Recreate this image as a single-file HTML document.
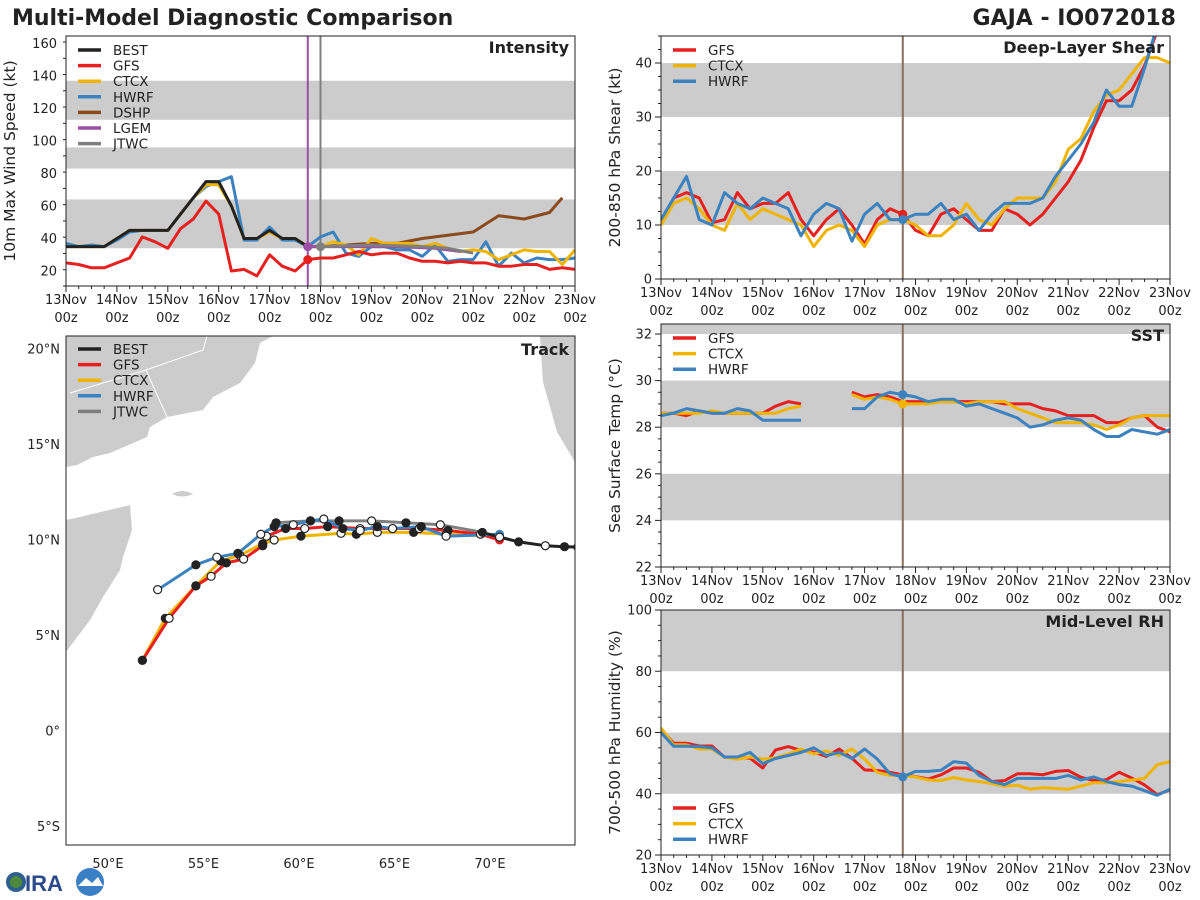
<!DOCTYPE html>
<html><head><meta charset="utf-8">
<style>
body{margin:0;background:#fff;}
svg{display:block;font-family:"DejaVu Sans","Liberation Sans",sans-serif;}
</style></head>
<body>
<svg id="fig" width="1200" height="900" viewBox="0 0 1200 900">
<text x="12" y="25" font-size="22" font-weight="bold" fill="#222">Multi-Model Diagnostic Comparison</text>
<text x="1176" y="25" font-size="22" font-weight="bold" fill="#222" text-anchor="end">GAJA - IO072018</text>
<g>
<circle cx="16" cy="882" r="10" fill="#2d5f8f"/><circle cx="16" cy="882" r="6" fill="#4f8a3c"/>
<text x="25" y="891" font-size="22" font-weight="bold" fill="#2a4a8a" font-family="Liberation Sans,sans-serif">IRA</text>
<circle cx="90" cy="882" r="14" fill="#3b7fc4"/><path d="M78 886 L86 878 L92 883 L98 877 L103 886 Z" fill="#fff"/>
</g>
</svg>
<script>
// ---------- data ----------
const timeLabels = ["13Nov","14Nov","15Nov","16Nov","17Nov","18Nov","19Nov","20Nov","21Nov","22Nov","23Nov"];
// intensity (kt), 6-hourly from 13Nov00z
const intBEST = [35,35,35,35,40,45,45,45,45,55,65,75,75,60,40,40,45,40,40,35];
const intGFS  = [25,24,22,22,25,28,41,38,34,46,52,63,55,20,21,17,30,23,20,27,28,28,30,32,30,31,31,28,26,26,25,26,25,25,23,23,24,24,21,22,21];
const intCTCX = [35,35,35,35,40,45,45,45,45,55,65,73,73,60,40,40,44,40,40,35,35,38,36,30,40,37,37,37,35,37,34,32,33,32,27,30,33,32,32,24,33];
const intHWRF = [37,35,36,35,39,44,45,45,45,55,65,72,75,78,39,39,47,39,39,35,41,44,31,29,35,35,33,33,29,36,26,27,27,38,23,31,25,28,27,27,28];
const dshpHours = [114,120,132,144,156,168,180,192,204,216,228,234];
const dshpVals  = [35,35,36,37,37,40,42,44,54,52,56,65];
const lgemHours = [114,132,156,174,186];
const lgemVals  = [35,35,35,34,32];
const jtwcHours = [120,144,168,180,192];
const jtwcVals  = [35,36,35,34,31];
// deep-layer shear (kt)
const shrGFS  = [10.4,15,16,15,10.4,11,16,13,14,14,16,11,8,11,13,10,6.5,11,13,12,9,8,12,13,11,9,9,13,12,10,12,15,18,22,28,33,33,35,39.5,46];
const shrCTCX = [10,14,15,13,10,9,14,11,13,12,11,10,6,9,10,9,6,10,11,11,10,8,8,10,14,11,10,13,15,15,15,18,24,26,31,34,35,38,41,41,40];
const shrHWRF = [11,15,19,11,10,16,14,13,15,14,13,8,12,14,13,7,12,14,11,11,12,12,14,11,12,9,12,14,14,14,15,19,22,25,29,35,32,32,39,47];
// SST (C), null = missing
const sstGFS  = [28.6,28.6,28.5,28.7,28.6,28.6,28.6,28.6,28.6,28.9,29.1,29.0,null,null,null,29.5,29.3,29.4,29.3,29.1,29.1,29.1,29.1,29.1,29.1,29.1,29.1,29.0,29.0,29.0,28.8,28.7,28.5,28.5,28.5,28.2,28.2,28.4,28.5,28.0,27.8];
const sstCTCX = [28.6,28.6,28.6,28.6,28.7,28.6,28.6,28.6,28.6,28.6,28.8,28.9,null,null,null,29.4,29.2,29.3,29.2,29.0,29.0,29.0,29.1,29.1,29.0,29.1,29.1,29.1,28.8,28.6,28.4,28.2,28.2,28.2,28.1,27.9,28.1,28.4,28.5,28.5,28.5];
const sstHWRF = [28.5,28.6,28.8,28.7,28.6,28.6,28.8,28.7,28.3,28.3,28.3,28.3,null,null,null,28.8,28.8,29.3,29.5,29.4,29.3,29.1,29.2,29.2,28.9,29.0,28.8,28.6,28.4,28.0,28.1,28.3,28.4,28.3,27.9,27.6,27.6,27.9,27.8,27.7,27.9];
// mid-level RH (%)
const rhGFS  = [60.9,56.5,56.5,55.6,55.6,51.9,51.9,51.6,48.4,54.3,55.4,54.1,53.6,52.2,54.6,51.6,47.8,47.6,47.0,46.2,45.6,44.8,46.2,48.4,48.4,47.0,44.0,44.3,46.5,46.5,46.2,47.3,47.6,45.4,44.3,44.6,47.0,45.1,42.9,39.7,41.3];
const rhCTCX = [61.5,56,56,54.6,54.6,52,51.3,52,51.3,51.7,53,54.6,53,54,52.5,54.6,51.3,47,46,46,45.5,44.5,44.3,45.3,44.5,44.0,43.3,42.5,42.8,41.5,42,41.7,41.5,42.5,43.6,43.6,44.0,44.5,45,49.5,50.5];
const rhHWRF = [60,55.5,55.5,55.4,55,52,52,53.5,49.8,51.5,52.5,53.5,55,52.5,53.5,51.5,54.6,51.3,46.5,45.5,47.3,47.3,47.7,50.5,50,46,44,43,45,45,45,45,46,44.5,45.5,44,43,42.5,41,39.5,41.5];
// tracks (lon E, lat N)
const trkBESTlon = [69.6,70.5,71.5,72.9,73.9,74.6];
const trkBESTlat = [10.4,10.15,9.9,9.7,9.65,9.63];
const trkJTWClon = [69.6,67.4,65.6,63.8,62.1,60.6,58.8];
const trkJTWClat = [10.4,10.8,10.9,11.0,11.0,11.0,10.9];
const trkHWRFlon = [70.5,67.7,66.4,64.9,64.1,63.2,62.3,61.3,60.6,59.7,58.7,58.0,56.8,55.7,54.6,52.6];
const trkHWRFlat = [10.3,10.2,10.7,10.6,10.7,10.5,10.6,11.1,11.0,10.8,10.7,10.3,9.3,9.1,8.7,7.4];
const trkGFSlon = [70.5,69.5,67.8,66.3,64.9,63.2,61.5,60.3,59.3,58.3,58.1,57.1,56.2,55.4,54.6,53.2,51.8];
const trkGFSlat = [10.0,10.3,10.5,10.6,10.6,10.6,10.7,10.6,10.6,10.2,9.7,9.0,8.8,8.1,7.6,5.9,3.7];
const trkCTCXlon = [70.5,67.7,66.0,64.1,63.0,62.2,60.1,58.7,58.1,56.9,55.9,54.6,53.0,51.8];
const trkCTCXlat = [10.2,10.3,10.4,10.4,10.3,10.35,10.2,10.0,9.8,9.2,8.9,7.6,5.9,3.7];

const C = {BEST:"#222222",GFS:"#e6201f",CTCX:"#f0b400",HWRF:"#3b82bf",DSHP:"#8b4a1e",LGEM:"#9b4fa6",JTWC:"#7f7f7f"};
const NS="http://www.w3.org/2000/svg";
const svg=document.getElementById('fig');
function mk(tag,attrs,parent){const e=document.createElementNS(NS,tag);for(const k in attrs)e.setAttribute(k,attrs[k]);(parent||svg).appendChild(e);return e;}

function timePanel(p){
  const g=mk('g',{});
  
  
  const X=h=>p.l+(h/240)*(p.r-p.l);
  const Y=v=>p.b-(v-p.ymin)/(p.ymax-p.ymin)*(p.b-p.t);
  const clip='clip-'+p.name;
  const cp=mk('clipPath',{id:clip},g);mk('rect',{x:p.l,y:p.t,width:p.r-p.l,height:p.b-p.t},cp);
  p.bands.forEach(b=>{const y1=Y(Math.min(b[1],p.ymax)),y2=Y(b[0]);const r=mk('rect',{x:p.l,y:y1,width:p.r-p.l,height:y2-y1,fill:"#cccccc"},g);});
  const plot=mk('g',{'clip-path':'url(#'+clip+')'},g);
  (p.vlines||[]).forEach(v=>{const l=mk('line',{x1:X(v[0]),x2:X(v[0]),y1:p.t,y2:p.b,stroke:v[1],'stroke-width':2},plot);});
  p.series.forEach(s=>{
    const hrs=s.hours||s.vals.map((_,i)=>i*6);
    let d='',pen=false;
    s.vals.forEach((v,i)=>{if(v===null){pen=false;return;}d+=(pen?'L':'M')+X(hrs[i]).toFixed(1)+' '+Y(v).toFixed(1);pen=true;});
    const path=mk('path',{d:d,fill:'none',stroke:C[s.key],'stroke-width':s.w||3,'stroke-linejoin':'round'},plot);
    
    
    if(s.dot!==undefined){const idx=hrs.indexOf(s.dot);const c=mk('circle',{cx:X(hrs[idx]),cy:Y(s.vals[idx]),r:4.5,fill:C[s.key]},plot);}
  });
  mk('rect',{x:p.l,y:p.t,width:p.r-p.l,height:p.b-p.t,fill:'none',stroke:'#222','stroke-width':1},g);
  for(let h=0;h<=240;h+=6){const maj=h%24===0;mk('line',{x1:X(h),x2:X(h),y1:p.b,y2:p.b+(maj?6:3),stroke:'#222','stroke-width':1},g);}
  timeLabels.forEach((lab,i)=>{const t=mk('text',{x:X(i*24),y:p.b+18,'font-size':13,'text-anchor':'middle',fill:'#222'},g);t.textContent=lab;
    const t2=mk('text',{x:X(i*24),y:p.b+36,'font-size':13,'text-anchor':'middle',fill:'#222'},g);t2.textContent='00z';});
  for(let v=p.ymin;v<=p.ymax+1e-6;v+=p.minor){if(v<p.ymin)continue;const maj=Math.abs((v-p.y0)/p.major-Math.round((v-p.y0)/p.major))<1e-6;mk('line',{x1:p.l,x2:p.l-(maj?6:3),y1:Y(v),y2:Y(v),stroke:'#222','stroke-width':1},g);}
  p.yticks.forEach(v=>{const t=mk('text',{x:p.l-9,y:Y(v)+4.5,'font-size':13,'text-anchor':'end',fill:'#222'},g);t.textContent=v;});
  const yl=mk('text',{x:0,y:0,'font-size':15.5,'text-anchor':'middle',fill:'#222',transform:`translate(${p.ylx},${(p.t+p.b)/2}) rotate(-90)`},g);yl.textContent=p.ylabel;
  const ti=mk('text',{x:p.r-6,y:p.t+17,'font-size':16,'font-weight':'bold','text-anchor':'end',fill:'#222'},g);ti.textContent=p.title;
  legend(g,p.l+12,p.legY,p.legend);
}
function legend(g,x,y0,keys){
  keys.forEach((k,i)=>{const y=y0+i*15.6;
    const lg=mk('g',{},g);
    mk('line',{x1:x,x2:x+23,y1:y,y2:y,stroke:C[k],'stroke-width':3.5},lg);
    const t=mk('text',{x:x+35,y:y+5,'font-size':13.5,fill:'#222'},lg);t.textContent=k;});
}

timePanel({name:'intensity-panel',l:66,r:575,t:36,b:286,ymin:10.8,ymax:164.5,y0:20,major:20,minor:10,yticks:[20,40,60,80,100,120,140,160],
  bands:[[34,64],[83,96],[113,137]],ylabel:'10m Max Wind Speed (kt)',ylx:15,title:'Intensity',legY:50,
  legend:['BEST','GFS','CTCX','HWRF','DSHP','LGEM','JTWC'],vlines:[[114,C.LGEM],[120,C.JTWC]],
  series:[{key:'DSHP',vals:dshpVals,hours:dshpHours},{key:'HWRF',vals:intHWRF},{key:'CTCX',vals:intCTCX},{key:'GFS',vals:intGFS,dot:114},{key:'BEST',vals:intBEST},
    {key:'LGEM',vals:lgemVals,hours:lgemHours,dot:114},{key:'JTWC',vals:jtwcVals,hours:jtwcHours,dot:120}]});
timePanel({name:'shear-panel',l:661,r:1170,t:36,b:279,ymin:0,ymax:45,y0:0,major:10,minor:2.5,yticks:[0,10,20,30,40],
  bands:[[10,20],[30,40]],ylabel:'200-850 hPa Shear (kt)',ylx:620,title:'Deep-Layer Shear',legY:50,legend:['GFS','CTCX','HWRF'],
  vlines:[[114,'#8a6e5e']],series:[{key:'GFS',vals:shrGFS,dot:114},{key:'CTCX',vals:shrCTCX},{key:'HWRF',vals:shrHWRF,dot:114}]});
timePanel({name:'sst-panel',l:661,r:1170,t:324,b:567,ymin:22,ymax:32.43,y0:22,major:2,minor:0.5,yticks:[22,24,26,28,30,32],
  bands:[[24,26],[28,30],[32,33]],ylabel:'Sea Surface Temp (°C)',ylx:620,title:'SST',legY:338,legend:['GFS','CTCX','HWRF'],
  vlines:[[114,'#8a6e5e']],series:[{key:'GFS',vals:sstGFS},{key:'CTCX',vals:sstCTCX,dot:114},{key:'HWRF',vals:sstHWRF,dot:114}]});
timePanel({name:'rh-panel',l:661,r:1170,t:610,b:855,ymin:20,ymax:100,y0:20,major:20,minor:5,yticks:[20,40,60,80,100],
  bands:[[40,60],[80,100]],ylabel:'700-500 hPa Humidity (%)',ylx:620,title:'Mid-Level RH',legY:808,legend:['GFS','CTCX','HWRF'],
  vlines:[[114,'#8a6e5e']],series:[{key:'GFS',vals:rhGFS},{key:'CTCX',vals:rhCTCX},{key:'HWRF',vals:rhHWRF,dot:114}]});

// ---------- track panel ----------
(function(){
  const L=66,R=575,T=336,B=845;
  const LX=lon=>108+(lon-50)*19.1, LY=lat=>540-(lat-10)*19.1;
  const g=mk('g',{});
  const cp=mk('clipPath',{id:'clip-track'},g);mk('rect',{x:L,y:T,width:R-L,height:B-T},cp);
  const m=mk('g',{'clip-path':'url(#clip-track)'},g);
  const land=[
    "M66 336 L273 336 L260 343 L255 363 L240 383 L213 397 L203 410 L167 417 L150 427 L147 437 L110 453 L93 457 L77 465 L66 467 Z",
    "M66 520 L80 517 L130 505 L132 530 L123 557 L120 570 L103 597 L90 620 L66 652 Z",
    "M540 336 L575 336 L575 462 L557 432 L543 382 Z",
    "M172 494 Q182 488 193 494 Q182 499 172 494 Z"];
  land.forEach(d=>{const p=mk('path',{d:d,fill:'#cccccc'},m);});
  mk('path',{d:"M207 336 L203 350 L146 370 L70 393 M146 370 L167 417",fill:'none',stroke:'#fff','stroke-width':1},m);
  const tracks=[['JTWC',trkJTWClon,trkJTWClat],['CTCX',trkCTCXlon,trkCTCXlat],['GFS',trkGFSlon,trkGFSlat],['HWRF',trkHWRFlon,trkHWRFlat],['BEST',trkBESTlon,trkBESTlat]];
  tracks.forEach(([k,lo,la])=>{
    const d=lo.map((v,i)=>(i?'L':'M')+LX(v).toFixed(1)+' '+LY(la[i]).toFixed(1)).join('');
    const p=mk('path',{d:d,fill:'none',stroke:C[k],'stroke-width':3,'stroke-linejoin':'round'},m);
    
    
  });
  tracks.forEach(([k,lo,la])=>{
    lo.forEach((v,i)=>{if(i===0)return;const open=i%2===1;
      const c=mk('circle',{cx:LX(v),cy:LY(la[i]),r:4,fill:open?'#fff':'#222',stroke:'#222','stroke-width':1.2},m);
      
      });
    const s=mk('circle',{cx:LX(lo[0]),cy:LY(la[0]),r:4.5,fill:C[k]},m);
    
    
  });
  mk('rect',{x:L,y:T,width:R-L,height:B-T,fill:'none',stroke:'#222','stroke-width':1},g);
  [50,55,60,65,70].forEach(v=>{const t=mk('text',{x:LX(v),y:B+23,'font-size':13,'text-anchor':'middle',fill:'#222'},g);t.textContent=v+'°E';});
  [[20,'20°N'],[15,'15°N'],[10,'10°N'],[5,'5°N'],[0,'0°'],[-5,'5°S']].forEach(([v,s])=>{const t=mk('text',{x:L-6,y:LY(v)+4.5,'font-size':13,'text-anchor':'end',fill:'#222'},g);t.textContent=s;});
  const ti=mk('text',{x:R-6,y:T+19,'font-size':16,'font-weight':'bold','text-anchor':'end',fill:'#222'},g);ti.textContent='Track';
  legend(g,L+12,349,['BEST','GFS','CTCX','HWRF','JTWC']);
})();
</script>
</body></html>
